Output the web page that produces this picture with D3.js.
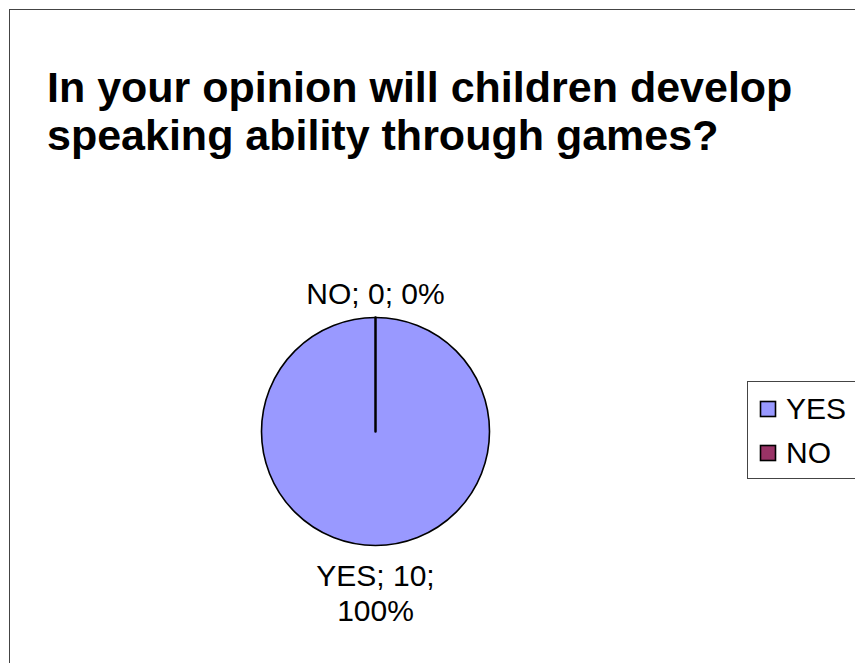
<!DOCTYPE html>
<html>
<head>
<meta charset="utf-8">
<script src="https://cdn.jsdelivr.net/npm/d3@7"></script>
<style>
  html, body { margin: 0; padding: 0; background: #fff; }
  svg { display: block; }
  text { font-family: "Liberation Sans", Arial, sans-serif; fill: #000; }
</style>
</head>
<body>
<svg id="chart" width="855" height="663"></svg>
<script>
// Survey answers
const categories = ["YES", "NO"];
const counts = [10, 0];
const colors = ["#9999FF", "#993366"];
const titleLines = ["In your opinion will children develop", "speaking ability through games?"];

const svg = d3.select("#chart");
const W = 855, H = 663;

// Chart area frame (runs past the right and bottom edges)
svg.append("rect")
  .attr("x", 9.5).attr("y", 9.5)
  .attr("width", W + 20).attr("height", H + 20)
  .attr("fill", "#fff").attr("stroke", "#444").attr("stroke-width", 1);

// Title
const title = svg.append("text")
  .attr("x", 47).attr("y", 102)
  .attr("font-size", 43).attr("font-weight", "bold");
titleLines.forEach((line, i) => {
  title.append("tspan").attr("x", 47).attr("dy", i === 0 ? 0 : 48).text(line);
});

// Pie
const cx = 375.5, cy = 431.5, R = 114;
const total = d3.sum(counts);
const data = categories.map((c, i) => ({ cat: c, value: counts[i], color: colors[i] }));
const pie = d3.pie().sort(null).value(d => d.value);
const arcs = pie(data);
const arc = d3.arc().innerRadius(0).outerRadius(R);

const g = svg.append("g").attr("transform", `translate(${cx},${cy})`);
g.selectAll("path.slice")
  .data(arcs)
  .join("path")
  .attr("class", "slice")
  .attr("d", arc)
  .attr("fill", d => d.data.color)
  .attr("stroke", "#000")
  .attr("stroke-width", d => d.value === 0 ? 2.5 : 1.6)
  .attr("stroke-linejoin", "round");

// Data labels: "category; value; percent"
const fmtPct = d3.format(".0%");
const labelSize = 30;
// NO label above the pie
const noArc = arcs[1];
svg.append("text")
  .attr("x", cx).attr("y", cy - R - 14)
  .attr("text-anchor", "middle").attr("font-size", labelSize)
  .text(`${noArc.data.cat}; ${noArc.data.value}; ${fmtPct(noArc.data.value / total)}`);
// YES label below the pie, wrapped on two lines
const yesArc = arcs[0];
const yesLabel = svg.append("text")
  .attr("x", cx).attr("y", cy + R + 40)
  .attr("text-anchor", "middle").attr("font-size", labelSize);
yesLabel.append("tspan").attr("x", cx).attr("dy", 0)
  .text(`${yesArc.data.cat}; ${yesArc.data.value};`);
yesLabel.append("tspan").attr("x", cx).attr("dy", 35)
  .text(fmtPct(yesArc.data.value / total));

// Legend
const lg = svg.append("g");
lg.append("rect")
  .attr("x", 747.5).attr("y", 381.5)
  .attr("width", 140).attr("height", 97)
  .attr("fill", "#fff").attr("stroke", "#444").attr("stroke-width", 1);
categories.forEach((c, i) => {
  const y = 401 + i * 44;
  lg.append("rect")
    .attr("x", 760.5).attr("y", y + 0.5)
    .attr("width", 15).attr("height", 15)
    .attr("fill", colors[i]).attr("stroke", "#000").attr("stroke-width", 1.6);
  lg.append("text")
    .attr("x", 786).attr("y", y + 18)
    .attr("font-size", 30).text(c);
});
</script>
</body>
</html>
